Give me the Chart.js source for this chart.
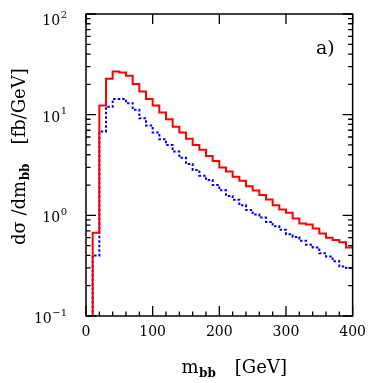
<!DOCTYPE html>
<html>
<head>
<meta charset="utf-8">
<script src="https://cdn.jsdelivr.net/npm/chart.js@4.4.1/dist/chart.umd.min.js"></script>
<style>
    html, body { margin: 0; padding: 0; background: #fff; }
</style>
</head>
<body>
<canvas id="mbbChart" width="374" height="383"></canvas>
<script>
// m_bb spectrum, 10 GeV bins given by their left edges (last edge closes the histogram)
const binEdges = [0, 10, 20, 30, 40, 50, 60, 70, 80, 90, 100, 110, 120, 130, 140, 150, 160, 170, 180, 190,
    200, 210, 220, 230, 240, 250, 260, 270, 280, 290, 300, 310, 320, 330, 340, 350, 360, 370, 380, 390, 400];

// 0.001 = empty bin, falls below the axis
const solidValues = [0.001, 0.67, 12.3, 22.7, 26.8, 26.2, 24.3, 20.2, 17.0, 14.3,
    12.3, 10.5, 9.0, 7.6, 6.64, 5.78, 5.01, 4.47, 3.89, 3.47,
    2.98, 2.72, 2.42, 2.21, 1.95, 1.76, 1.59, 1.44, 1.26, 1.14,
    1.06, 0.93, 0.83, 0.81, 0.74, 0.66, 0.60, 0.57, 0.54, 0.48];

const dottedValues = [0.001, 0.40, 6.8, 12.0, 14.3, 14.3, 13.0, 11.2, 9.2, 7.8,
    6.64, 5.7, 5.0, 4.3, 3.74, 3.24, 2.82, 2.48, 2.24, 2.0,
    1.77, 1.56, 1.43, 1.26, 1.13, 1.02, 0.95, 0.86, 0.78, 0.72,
    0.65, 0.61, 0.56, 0.51, 0.48, 0.42, 0.39, 0.35, 0.31, 0.30];

const xMinorTicks = [0, 20, 40, 60, 80, 100, 120, 140, 160, 180, 200, 220, 240, 260, 280, 300, 320, 340, 360, 380, 400];
const xMajorTicks = [0, 100, 200, 300, 400];
const yDecades = [0.1, 1, 10, 100];
const yExponents = ['\u22121', '0', '1', '2'];
const yMinorMult = [2, 3, 4, 5, 6, 7, 8, 9];

const serif = '"DejaVu Serif", serif';

// one point per bin edge, last one repeats the last bin
const toSteps = (values) => binEdges.map((x, i) => ({ x: x, y: values[Math.min(i, values.length - 1)] }));

// draw a row of text pieces (base, subscript...) starting at 0,0 in current transform
const drawRuns = (ctx, runs) => {
    let x = 0;
    runs.forEach(r => {
        x += r.gap || 0;
        ctx.font = r.font;
        ctx.fillText(r.text, x, r.dy || 0);
        x += ctx.measureText(r.text).width;
    });
};

const framePlugin = {
    id: 'frame',
    afterDraw(chart) {
        const { ctx, chartArea: a, scales: { x, y } } = chart;
        ctx.save();
        ctx.strokeStyle = '#000';
        ctx.fillStyle = '#000';

        // box
        ctx.lineWidth = 1.5;
        ctx.strokeRect(a.left, a.top, a.right - a.left, a.bottom - a.top);

        // inward ticks
        ctx.lineWidth = 1.3;
        ctx.beginPath();
        xMinorTicks.forEach(v => {
            const px = x.getPixelForValue(v);
            const major = xMajorTicks.includes(v);
            ctx.moveTo(px, a.bottom);
            ctx.lineTo(px, a.bottom - (major ? 10 : 4.5));
            if (major) {
                ctx.moveTo(px, a.top);
                ctx.lineTo(px, a.top + 10);
            }
        });
        yDecades.forEach((d, i) => {
            const py = y.getPixelForValue(d);
            [a.left, a.right].forEach((ex, k) => {
                const dir = k === 0 ? 1 : -1;
                ctx.moveTo(ex, py);
                ctx.lineTo(ex + dir * 10, py);
                if (i < yDecades.length - 1) {
                    yMinorMult.forEach(m => {
                        const pm = y.getPixelForValue(d * m);
                        ctx.moveTo(ex, pm);
                        ctx.lineTo(ex + dir * 4.5, pm);
                    });
                }
            });
        });
        ctx.stroke();

        // y tick labels 10^n
        ctx.textAlign = 'left';
        ctx.textBaseline = 'alphabetic';
        yDecades.forEach((d, i) => {
            const py = y.getPixelForValue(d);
            const shift = Math.max(0, a.top + 4 - py);
            ctx.font = '10px ' + serif;
            const ew = ctx.measureText(yExponents[i]).width;
            ctx.font = '14px ' + serif;
            const bw = ctx.measureText('10').width;
            const right = 67;
            ctx.fillText('10', right - ew - bw - 0.5, py + 7 + shift);
            ctx.font = '10px ' + serif;
            ctx.fillText(yExponents[i], right - ew, py - 0.5 + shift);
        });

        // x title
        ctx.save();
        ctx.translate(181.5, 372.7);
        drawRuns(ctx, [
            { text: 'm', font: '18px ' + serif },
            { text: 'bb', font: 'bold 12px ' + serif, dy: 4.3, gap: 0.5 },
            { text: '[GeV]', font: '18px ' + serif, gap: 19 }
        ]);
        ctx.restore();

        // y title
        ctx.save();
        ctx.translate(24.5, 245);
        ctx.rotate(-Math.PI / 2);
        drawRuns(ctx, [
            { text: 'd\u03c3 /dm', font: '18px ' + serif },
            { text: 'bb', font: 'bold 12px ' + serif, dy: 4.5, gap: 0.5 },
            { text: '[fb/GeV]', font: '18px ' + serif, gap: 19 }
        ]);
        ctx.restore();

        // panel tag
        ctx.font = '19px ' + serif;
        ctx.fillText('a)', 316, 54);

        ctx.restore();
    }
};

const ctx = document.getElementById('mbbChart');

new Chart(ctx, {
    type: 'line',
    data: {
        datasets: [
            {
                label: 'solid',
                data: toSteps(solidValues),
                borderColor: '#ff0000',
                borderWidth: 2,
                stepped: 'before',
                pointRadius: 0,
                fill: false
            },
            {
                label: 'dotted',
                data: toSteps(dottedValues),
                borderColor: '#0000ff',
                borderWidth: 2,
                borderDash: [2.5, 2],
                stepped: 'before',
                pointRadius: 0,
                fill: false
            }
        ]
    },
    options: {
        responsive: false,
        animation: false,
        layout: {
            padding: { top: 14, right: 17, left: 0, bottom: 0 }
        },
        plugins: {
            legend: { display: false },
            tooltip: { enabled: false }
        },
        scales: {
            x: {
                type: 'linear',
                min: 0,
                max: 400,
                grid: { display: false, drawTicks: false },
                border: { display: false },
                ticks: {
                    stepSize: 100,
                    padding: 8,
                    maxRotation: 0,
                    color: '#000',
                    font: { family: 'DejaVu Serif', size: 14 }
                },
                afterFit: (scale) => { scale.height = 67; }
            },
            y: {
                type: 'logarithmic',
                min: 0.1,
                max: 100,
                grid: { display: false, drawTicks: false },
                border: { display: false },
                ticks: { display: false },
                afterFit: (scale) => { scale.width = 86; }
            }
        }
    },
    plugins: [framePlugin]
});
</script>
</body>
</html>
